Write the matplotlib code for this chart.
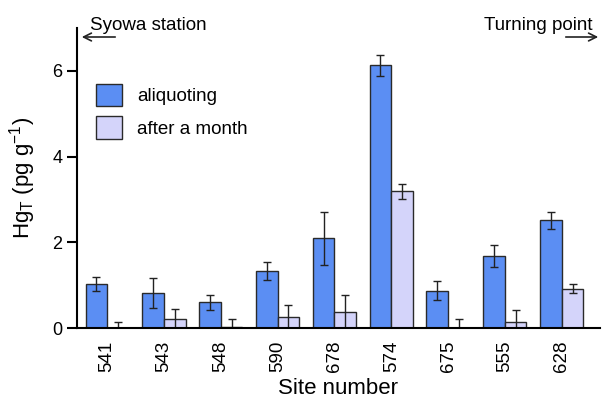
import numpy as np
import matplotlib
matplotlib.use("Agg")
import matplotlib.pyplot as plt

plt.rcParams['font.family'] = ['Liberation Sans', 'DejaVu Sans']

sites = ["541", "543", "548", "590", "678", "574", "675", "555", "628"]
aliquoting = [1.03, 0.81, 0.60, 1.33, 2.09, 6.13, 0.87, 1.68, 2.51]
aliquoting_err = [0.16, 0.35, 0.17, 0.20, 0.62, 0.25, 0.22, 0.26, 0.20]
after_month = [0.0, 0.22, 0.02, 0.26, 0.37, 3.19, 0.0, 0.13, 0.92]
after_month_err = [0.13, 0.23, 0.19, 0.27, 0.40, 0.18, 0.20, 0.28, 0.10]

blue = "#5b8ef3"
lavender = "#d4d4fa"
edge = "#2a2a2a"

fig = plt.figure(figsize=(6.03, 4.05), dpi=100)
ax = fig.add_axes([0.1277, 0.19, 0.867, 0.741])

x = np.arange(len(sites))
w = 0.38
err_kw = dict(ecolor="#222222", elinewidth=1.0, capsize=3, capthick=1.0)
ax.bar(x - w / 2, aliquoting, w, yerr=aliquoting_err, color=blue,
       edgecolor=edge, linewidth=1.0, error_kw=err_kw, label="aliquoting")
ax.bar(x + w / 2, after_month, w, yerr=after_month_err, color=lavender,
       edgecolor=edge, linewidth=1.0, error_kw=err_kw, label="after a month")

ax.set_xlim(-0.53, 8.67)
ax.set_ylim(0, 7.0)
ax.set_yticks([0, 2, 4, 6])
ax.set_xticks(x)
ax.set_xticklabels(sites, rotation=90, fontsize=13.5)
ax.tick_params(axis="x", length=0, pad=9)
ax.tick_params(axis="y", length=7, width=1.5, labelsize=13, direction="out")
for s in ["top", "right"]:
    ax.spines[s].set_visible(False)
for s in ["left", "bottom"]:
    ax.spines[s].set_linewidth(1.5)

ax.set_xlabel("Site number", fontsize=16, labelpad=4)
ax.set_ylabel(r"Hg$_\mathregular{T}$ (pg g$^\mathregular{-1}$)", fontsize=16, labelpad=10)

ax.legend(loc="upper left", bbox_to_anchor=(0.0, 0.876), frameon=False,
          fontsize=13.5, handlelength=1.4, handleheight=1.45, labelspacing=0.55,
          handletextpad=0.8, borderaxespad=0.6)

# direction labels along the transect
fig.text(90 / 603, 1 - 25 / 405, "Syowa station", fontsize=13.5, va="center", ha="left")
fig.text(593 / 603, 1 - 25 / 405, "Turning point", fontsize=13.5, va="center", ha="right")
arrow = dict(arrowstyle="->", color="#222222", lw=1.2, mutation_scale=14)
fig.add_artist(matplotlib.patches.FancyArrowPatch(
    (118 / 603, 1 - 37 / 405), (79 / 603, 1 - 37 / 405),
    transform=fig.transFigure, **arrow))
fig.add_artist(matplotlib.patches.FancyArrowPatch(
    (563 / 603, 1 - 37 / 405), (601 / 603, 1 - 37 / 405),
    transform=fig.transFigure, **arrow))

fig.savefig("out.png", dpi=100)
